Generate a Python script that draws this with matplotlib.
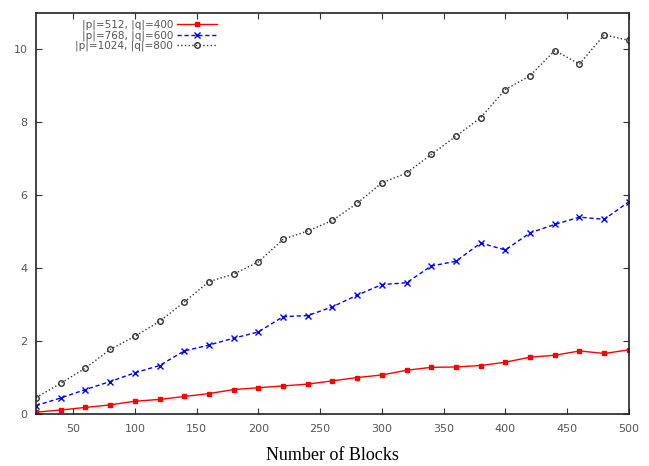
import matplotlib
matplotlib.use("Agg")
import matplotlib.pyplot as plt

blocks = list(range(20, 501, 20))

p512 = [0.05, 0.11, 0.18, 0.25, 0.35, 0.40, 0.48, 0.56, 0.67, 0.72, 0.77, 0.82, 0.91,
        1.00, 1.07, 1.20, 1.28, 1.29, 1.33, 1.42, 1.56, 1.61, 1.73, 1.66, 1.76]
p768 = [0.23, 0.44, 0.67, 0.89, 1.13, 1.33, 1.73, 1.89, 2.08, 2.25, 2.67, 2.70, 2.94,
        3.26, 3.55, 3.60, 4.06, 4.19, 4.69, 4.50, 4.97, 5.20, 5.40, 5.34, 5.82]
p1024 = [0.45, 0.84, 1.26, 1.77, 2.13, 2.54, 3.07, 3.63, 3.84, 4.17, 4.79, 5.02, 5.31,
         5.78, 6.34, 6.61, 7.12, 7.62, 8.13, 8.90, 9.28, 9.97, 9.60, 10.40, 10.25]

labels = ["|p|=512, |q|=400", "|p|=768, |q|=600", "|p|=1024, |q|=800"]

fig = plt.figure(figsize=(6.49, 4.66), dpi=100)
ax = fig.add_axes([0.0555, 0.1116, 0.9135, 0.8605])

ax.plot(blocks, p512, color="red", linestyle="-", linewidth=1.0,
        marker="s", markersize=3.5, label=labels[0])
ax.plot(blocks, p768, color="blue", linestyle="--", linewidth=1.0, dashes=(3, 2),
        marker="x", markersize=4.5, markeredgewidth=1.0, label=labels[1])
ax.plot(blocks, p1024, color="#333333", linestyle=":", linewidth=1.0,
        marker="o", markersize=4, markerfacecolor="none", markeredgewidth=1.0,
        label=labels[2])

ax.set_xlim(20, 500)
ax.set_ylim(0, 11)
ax.set_xticks(range(50, 501, 50))
ax.set_yticks(range(0, 11, 2))
ax.tick_params(direction="in", top=True, right=True, length=4, width=0.8,
               labelsize=8, labelcolor="#555555", color="#333333")
ax.tick_params(axis="x", pad=7.5)
ax.tick_params(axis="y", pad=6)
for s in ax.spines.values():
    s.set_linewidth(1.2)
    s.set_color("#222222")

ax.set_xlabel("Number of Blocks", fontfamily="Liberation Serif", fontsize=13,
              labelpad=9)

leg = ax.legend(loc="upper left", bbox_to_anchor=(0.055, 1.0), frameon=False,
                markerfirst=False, numpoints=1, fontsize=7.5, handlelength=3.8,
                labelspacing=0.0, handletextpad=0.4, borderaxespad=0.25)
for t in leg.get_texts():
    t.set_color("#555555")

fig.savefig("out.png", dpi=100)
